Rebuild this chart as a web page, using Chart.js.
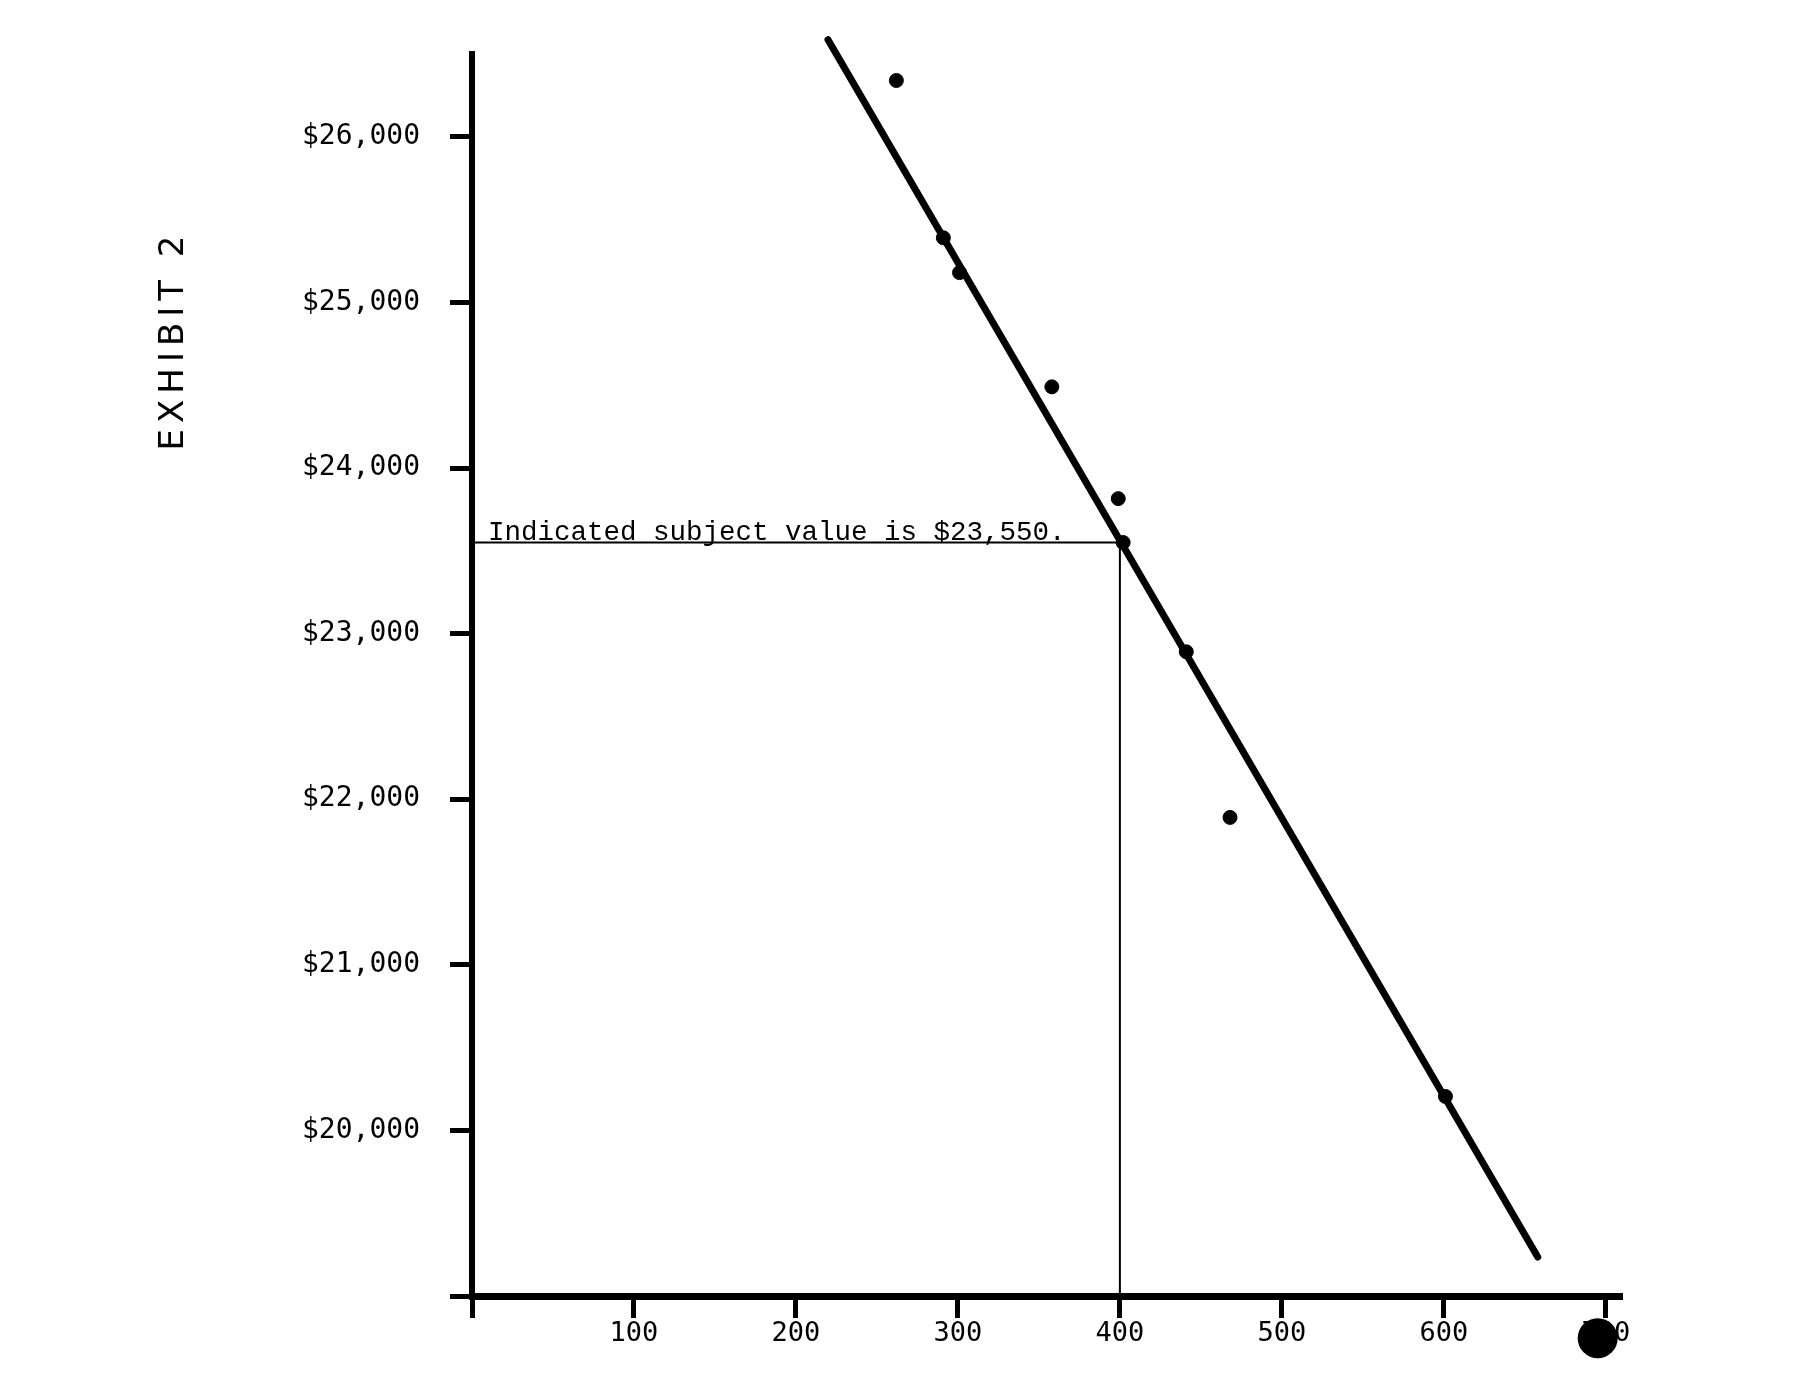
<!DOCTYPE html>
<html>
<head>
<meta charset="utf-8">
<title>Exhibit 2</title>
<script src="https://cdn.jsdelivr.net/npm/chart.js@4"></script>
<style>
	body { margin: 0; background: #fff; }
	#wrap { width: 1793px; height: 1380px; }
</style>
</head>
<body>
<div id="wrap"><canvas id="myChart" width="1793" height="1380"></canvas></div>
<script>
var saleSizes  = [262, 291, 301, 358, 399, 402, 441, 468, 601];
var salePrices = [26340, 25390, 25180, 24490, 23815, 23550, 22890, 21890, 20205];
var fitSizes   = [219.8, 658];
var fitPrices  = [26586, 19235];
var subjectSize  = 400;
var subjectValue = 23550;
var xTicks = [0, 100, 200, 300, 400, 500, 600, 700];
var yTicks = [19000, 20000, 21000, 22000, 23000, 24000, 25000, 26000];

function pairs(xs, ys) {
	var out = [];
	for (var i = 0; i < xs.length; i++) out.push({x: xs[i], y: ys[i]});
	return out;
}

// text + scan marks drawn on top of the chart
var extras = {
	id: 'extras',
	afterDraw: function(chart) {
		var ctx = chart.ctx;
		var xs = chart.scales.x, ys = chart.scales.y;
		ctx.save();
		ctx.fillStyle = '#000';
		ctx.font = '27.5px "Liberation Mono", monospace';
		ctx.textBaseline = 'alphabetic';
		ctx.textAlign = 'left';
		ctx.fillText('Indicated subject value is $23,550.', xs.getPixelForValue(0) + 16, ys.getPixelForValue(subjectValue) - 3);

		// hand written side title
		ctx.translate(174, 340);
		ctx.rotate(-Math.PI / 2);
		ctx.font = '34px "DejaVu Sans", sans-serif';
		ctx.letterSpacing = '6px';
		ctx.textAlign = 'center';
		ctx.textBaseline = 'middle';
		ctx.fillText('EXHIBIT 2', 0, 0);
		ctx.restore();

		// hole punch blot over the last label
		ctx.save();
		ctx.beginPath();
		ctx.arc(xs.getPixelForValue(695), ys.getPixelForValue(18745), 20, 0, Math.PI * 2);
		ctx.fillStyle = '#000';
		ctx.fill();
		ctx.restore();
	}
};

var ctx = document.getElementById('myChart').getContext('2d');
var myChart = new Chart(ctx, {
	type: 'scatter',
	data: {
		datasets: [
			{
				label: 'sales',
				data: pairs(saleSizes, salePrices),
				backgroundColor: '#000',
				borderColor: '#000',
				pointRadius: 7
			},
			{
				label: 'fit',
				data: pairs(fitSizes, fitPrices),
				showLine: true,
				borderColor: '#000',
				borderWidth: 7,
				borderCapStyle: 'round',
				pointRadius: 0,
				clip: false
			},
			{
				label: 'subject',
				data: [{x: 0, y: subjectValue}, {x: subjectSize, y: subjectValue}, {x: subjectSize, y: 19000}],
				showLine: true,
				borderColor: '#000',
				borderWidth: 2,
				pointRadius: 0
			}
		]
	},
	options: {
		responsive: false,
		animation: false,
		devicePixelRatio: 1,
		layout: { padding: { top: 54, right: 171, left: 0, bottom: 0 } },
		plugins: {
			legend: { display: false },
			tooltip: { enabled: false }
		},
		scales: {
			x: {
				type: 'linear',
				min: 0,
				max: 710,
				afterBuildTicks: function(s) { s.ticks = xTicks.map(function(v) { return {value: v}; }); },
				afterFit: function(s) { s.height = 84; },
				border: { color: '#000', width: 7 },
				grid: { drawOnChartArea: false, drawTicks: true, tickLength: 22, tickWidth: 5, tickColor: '#000' },
				ticks: {
					color: '#000',
					padding: 0,
					maxRotation: 0,
					font: { family: '"DejaVu Sans Mono", monospace', size: 27 },
					callback: function(v) { return v === 0 ? '' : String(v); }
				}
			},
			y: {
				min: 19000,
				max: 26500,
				afterBuildTicks: function(s) { s.ticks = yTicks.map(function(v) { return {value: v}; }); },
				afterFit: function(s) { s.width = 472; },
				border: { color: '#000', width: 6 },
				grid: { drawOnChartArea: false, drawTicks: true, tickLength: 22, tickWidth: 5, tickColor: '#000' },
				ticks: {
					color: '#000',
					padding: 30,
					font: { family: '"DejaVu Sans Mono", monospace', size: 28 },
					callback: function(v) { return v === 19000 ? '' : '$' + v.toLocaleString('en-US'); }
				}
			}
		}
	},
	plugins: [extras]
});
</script>
</body>
</html>
